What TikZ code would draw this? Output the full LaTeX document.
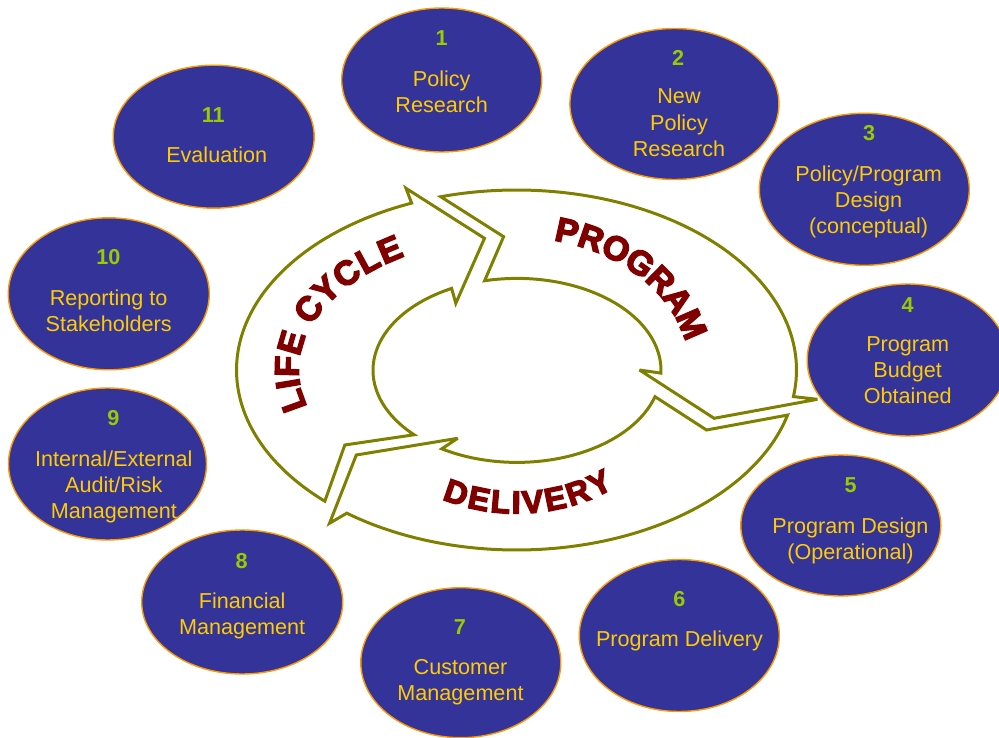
\documentclass[tikz,border=0pt]{standalone}
\usepackage{fontspec}
\usetikzlibrary{shapes.geometric,calc,decorations.text}
\newfontfamily\labelfont{Liberation Sans}
\newfontfamily\heavyfont[UprightFont={* Bold},FakeBold=4.5]{Liberation Sans}
\definecolor{blobfill}{HTML}{333399}
\definecolor{bloborange}{HTML}{FF9900}
\definecolor{textyellow}{HTML}{FFCC00}
\definecolor{numgreen}{HTML}{99CC00}
\definecolor{ringolive}{HTML}{808000}
\definecolor{wordred}{HTML}{800000}
\begin{document}
\begin{tikzpicture}[x=1pt, y=-1pt,
  blob/.style={ellipse, draw=bloborange, line width=1.4pt, fill=blobfill, inner sep=0pt},
  stepnum/.style={font=\labelfont\bfseries\fontsize{21.6}{26}\selectfont, text=numgreen, inner sep=0pt},
  steptext/.style={font=\labelfont\fontsize{21.6}{26.3}\selectfont, text=textyellow, align=center, anchor=north, inner sep=0pt},
  cyclearrow/.style={draw=ringolive, line width=3pt, fill=white, line join=miter, miter limit=4},
  ringword/.style={decorate, decoration={text along path, text align=center, raise=#1}},
]
\useasboundingbox (0,0) rectangle (999,738);

% centres of the outer and inner edges of the ring
\coordinate (oc) at (516.5,370);
\coordinate (ic) at (517,370.4);

% left arrow: up the left side to the top
\draw[cyclearrow] ($(oc)+(133.2:280 and 180)$) arc[start angle=133.2, end angle=248, x radius=280, y radius=180]
  -- (406,188.3) -- (484.5,238.3) -- (455.8,303.3)
  -- ($(ic)+(243:144 and 92)$) arc[start angle=243, end angle=135.6, x radius=144, y radius=92]
  -- (344.8,445) -- cycle;

% right arrow: over the top and down the right side
\draw[cyclearrow] ($(oc)+(254.3:280 and 180)$) arc[start angle=254.3, end angle=368.5, x radius=280, y radius=180]
  -- (817.4,399.3) -- (714.1,418.3) -- (639.5,370)
  -- ($(ic)+(361.7:144 and 92)$) arc[start angle=361.7, end angle=257, x radius=144, y radius=92]
  -- (503.6,236.7) -- cycle;

% bottom arrow: along the bottom back to the left
\draw[cyclearrow] ($(oc)+(14.5:280 and 180)$) arc[start angle=14.5, end angle=127.3, x radius=280, y radius=180]
  -- (329.5,523.3) -- (356.3,455) -- (457.7,438.3)
  -- ($(ic)+(121.5:144 and 92)$) arc[start angle=121.5, end angle=16.6, x radius=144, y radius=92]
  -- (706.5,430) -- cycle;

% curved words inside the ring (a small kern opens up the heavy letters)
\path[ringword=-12.2pt, decoration={text={|\heavyfont\fontsize{34}{34}\selectfont\color{wordred}\kern2.6pt|LIFE CYCLE}}]
  ($(oc)+(149.5:230 and 145)$) arc[start angle=149.5, end angle=249.5, x radius=230, y radius=145];
\path[ringword=-12.2pt, decoration={text={|\heavyfont\fontsize{34}{34}\selectfont\color{wordred}\kern1.6pt|PROGRAM}}]
  ($(oc)+(266.5:185 and 145)$) arc[start angle=266.5, end angle=366.5, x radius=185, y radius=145];
\path[ringword=-11.5pt, decoration={text={|\heavyfont\fontsize{32}{32}\selectfont\color{wordred}\kern1.3pt|DELIVERY}}]
  ($(oc)+(135.5:159 and 132)$) arc[start angle=135.5, end angle=35.5, x radius=159, y radius=132];

% the eleven steps
\node[blob, minimum width=200pt, minimum height=144pt] (e1) at (441.7,80) {};
\node[stepnum] (n1) at (441.7,38) {1};
\node[steptext] (t1) at (441.7,70.3) {Policy\\Research};

\node[blob, minimum width=209pt, minimum height=151pt] (e2) at (674.4,104) {};
\node[stepnum] (n2) at (678,58) {2};
\node[steptext] (t2) at (679,88.8) {New\\Policy\\Research};

\node[blob, minimum width=210pt, minimum height=152pt] (e3) at (864.3,189.3) {};
\node[stepnum] (n3) at (869,133) {3};
\node[steptext] (t3) at (868.6,165.3) {Policy/Program\\Design\\(conceptual)};

\node[blob, minimum width=201pt, minimum height=152pt] (e4) at (907.7,360) {};
\node[stepnum] (n4) at (907.7,305) {4};
\node[steptext] (t4) at (907.7,336.3) {Program\\Budget\\Obtained};

\node[blob, minimum width=200pt, minimum height=141pt] (e5) at (840.8,525.5) {};
\node[stepnum] (n5) at (850.7,485) {5};
\node[steptext] (t5) at (850.5,517.3) {Program Design\\(Operational)};

\node[blob, minimum width=200pt, minimum height=152pt] (e6) at (679.3,635.5) {};
\node[stepnum] (n6) at (679.3,599.3) {6};
\node[steptext] (t6) at (679.5,630.6) {Program Delivery};

\node[blob, minimum width=200pt, minimum height=150pt] (e7) at (460.8,662.7) {};
\node[stepnum] (n7) at (460,627) {7};
\node[steptext] (t7) at (460.5,659) {Customer\\Management};

\node[blob, minimum width=201pt, minimum height=144pt] (e8) at (242.2,602) {};
\node[stepnum] (n8) at (241.7,560.7) {8};
\node[steptext] (t8) at (242.2,592.3) {Financial\\Management};

\node[blob, minimum width=198pt, minimum height=152pt] (e9) at (107.5,464) {};
\node[stepnum] (n9) at (113.3,418) {9};
\node[steptext] (t9) at (113.8,450.3) {Internal/External\\Audit/Risk\\Management};

\node[blob, minimum width=201pt, minimum height=152pt] (e10) at (108.8,293.8) {};
\node[stepnum] (n10) at (108.3,256.7) {10};
\node[steptext] (t10) at (108.7,289.6) {Reporting to\\Stakeholders};

\node[blob, minimum width=201pt, minimum height=143pt] (e11) at (213.7,136.7) {};
\node[stepnum] (n11) at (213.3,115) {11};
\node[steptext] (t11) at (216.7,146.3) {Evaluation};
\end{tikzpicture}
\end{document}
